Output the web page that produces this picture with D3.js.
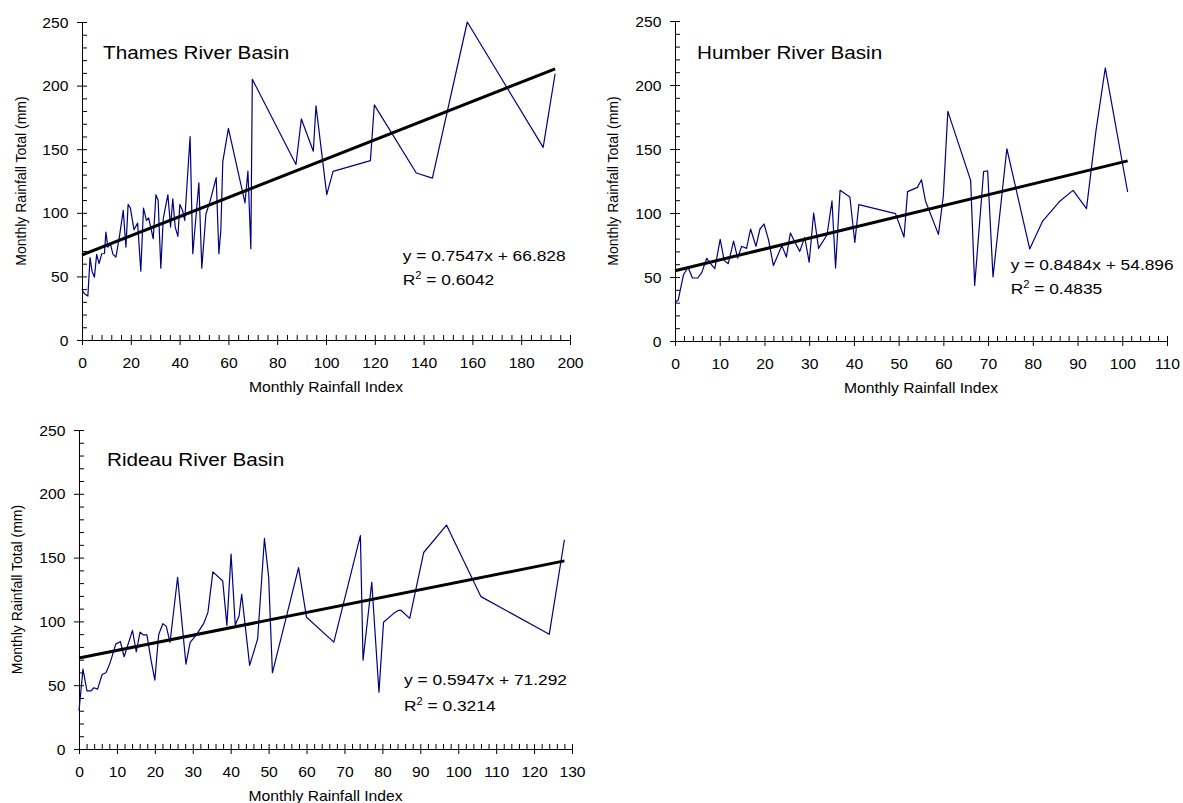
<!DOCTYPE html>
<html><head><meta charset="utf-8">
<script src="https://cdn.jsdelivr.net/npm/d3@7"></script>
<style>
body{margin:0;background:#fff}
svg{display:block}
text{font-family:Arial,"Liberation Sans",sans-serif;fill:#000}
</style>
</head><body>
<svg id="chart" width="1183" height="803"></svg>
<script>
// ---------------- DATA ----------------
const thamesIndex = [0,1.0,2.4,3.3,4.1,5.1,6.0,7.0,8.1,9.2,9.8,10.6,11.6,12.7,13.9,15.4,16.9,18.0,18.9,19.8,21.3,22.8,24.1,25.2,26.4,27.3,29.2,30.3,31.2,32.3,33.3,35.2,36.3,37.2,38.2,39.3,40.1,41.2,42.1,44.3,45.4,47.9,49.1,50.8,52.4,55.0,56.1,56.9,57.7,60.0,66.8,68.0,69.2,69.8,87.7,89.9,94.8,95.9,100.3,102.9,118.2,119.8,137.0,143.6,157.9,189.0,193.9];
const thamesRain  = [39.7,36.3,34.5,64.7,54.1,49.4,67.3,60.0,67.8,68.0,84.8,73.0,75.7,67.3,65.2,82.0,101.9,73.0,106.6,104.0,86.7,91.9,54.1,103.7,94.0,96.1,79.6,114.2,109.8,56.5,95.4,114.2,88.8,111.0,88.8,81.4,106.6,101.9,94.0,160.0,67.8,123.6,56.5,99.3,108.4,127.7,67.8,86.4,140.2,166.4,107.8,132.7,71.8,205.0,138.0,173.8,148.4,184.1,114.3,132.6,141.0,184.8,131.3,127.3,250.0,151.4,209.3];

const humberIndex = [0,0.7,1.9,2.9,3.9,5.1,6.0,7.1,8.0,8.9,10.1,11.0,11.9,13.1,14.0,14.9,16.0,16.9,18.1,19.0,19.9,20.9,22.0,23.9,24.9,25.8,26.9,27.9,29.0,30.0,31.0,32.1,34.0,35.1,35.9,36.9,39.1,40.2,41.1,49.3,51.2,52.0,54.2,55.1,56.0,58.9,60.0,61.0,66.1,67.0,69.0,69.9,71.1,74.2,79.3,82.2,86.1,89.0,92.0,94.1,96.2,101.2];
const humberRain  = [30.2,31.8,51.8,57.6,49.2,49.2,53.6,64.6,60.2,56.5,79.4,63.0,60.4,78.1,64.8,74.0,72.4,87.5,74.0,87.5,91.4,79.2,58.9,74.5,65.6,84.4,76.6,70.0,81.0,61.5,100.0,72.4,83.0,109.4,57.0,117.7,112.5,77.0,106.5,99.5,81.2,116.7,120.0,126.0,109.4,83.3,113.5,179.4,125.5,43.4,132.3,133.0,50.0,150.2,71.9,93.7,109.4,117.7,103.4,163.8,213.3,116.4];

const rideauIndex = [0,1.05,2.1,3.2,3.9,4.9,6.1,7.1,8.2,9.7,10.9,11.9,14.1,15.1,16.1,16.9,17.9,19.0,20.0,21.0,22.1,23.0,24.0,26.0,28.2,29.3,30.9,32.9,34.0,35.3,37.9,39.0,40.1,41.2,42.2,42.9,45.0,47.1,48.9,50.0,51.0,57.9,60.0,67.2,74.2,74.9,77.2,79.1,80.3,83.0,84.3,84.9,87.2,90.9,96.9,106.0,124.0,128.0];
const rideauRain  = [29.9,62.6,45.6,45.6,48.0,46.9,58.4,59.7,67.5,82.2,84.3,72.3,93.0,76.2,91.6,89.5,89.5,69.6,53.9,89.5,98.2,96.3,83.5,134.6,66.5,83.5,89.3,98.5,107.1,138.8,131.7,96.9,152.7,97.2,104.2,121.3,65.5,86.2,165.0,135.1,59.7,142.2,103.2,83.8,167.3,69.7,130.7,44.5,99.3,106.3,108.7,108.7,102.4,154.0,175.5,119.4,89.9,164.0];

const panelTitles = ["Thames River Basin","Humber River Basin","Rideau River Basin"];
const trendSlopes = [0.7547,0.8484,0.5947];
const trendIntercepts = [66.828,54.896,71.292];
const equationLabels = ["y = 0.7547x + 66.828","y = 0.8484x + 54.896","y = 0.5947x + 71.292"];
const r2Labels = ["0.6042","0.4835","0.3214"];
const yTickValues = [0,50,100,150,200,250];
const xTicksThames = [0,20,40,60,80,100,120,140,160,180,200];
const xTicksHumber = [0,10,20,30,40,50,60,70,80,90,100,110];
const xTicksRideau = [0,10,20,30,40,50,60,70,80,90,100,110,120,130];
const xAxisTitle = "Monthly Rainfall Index";
const yAxisTitle = "Monthly Rainfall Total (mm)";

// ---------------- LAYOUT ----------------
const SX = 1.12; // horizontal stretch of text in the reference
const panels = [
  {xs:thamesIndex, ys:thamesRain, xTicks:xTicksThames, xMax:200, xMinor:4,
   left:82, right:570, bottom:340, top:22, title:[103,58.5], eq:[402.7,260.5], r2y:284.5, ylabX:21},
  {xs:humberIndex, ys:humberRain, xTicks:xTicksHumber, xMax:110, xMinor:2,
   left:675, right:1167, bottom:341, top:21, title:[697,58.5], eq:[1010.7,269.5], r2y:293.5, ylabX:613},
  {xs:rideauIndex, ys:rideauRain, xTicks:xTicksRideau, xMax:130, xMinor:2,
   left:79, right:572, bottom:749, top:430, title:[107,465.5], eq:[404,684.5], r2y:710.5, ylabX:17}
];

const svg = d3.select("#chart");

panels.forEach((p, i) => {
  const x = d3.scaleLinear().domain([0, p.xMax]).range([p.left, p.right]);
  const y = d3.scaleLinear().domain([0, 250]).range([p.bottom, p.top]);
  const g = svg.append("g");

  // minor ticks (inside)
  const xMinorVals = d3.range(0, p.xMax + 0.001, p.xMinor).filter(v => !p.xTicks.includes(v));
  const yMinorVals = d3.range(0, 251, 10).filter(v => !yTickValues.includes(v));
  g.append("g").attr("transform", `translate(0,${p.bottom})`)
    .call(d3.axisBottom(x).tickValues(xMinorVals).tickSize(-5).tickFormat(""))
    .call(s => s.select(".domain").remove())
    .attr("color", "#000");
  g.append("g").attr("transform", `translate(${p.left},0)`)
    .call(d3.axisLeft(y).tickValues(yMinorVals).tickSize(-5).tickFormat(""))
    .call(s => s.select(".domain").remove())
    .attr("color", "#000");

  // major axes (crossing ticks)
  const gx = g.append("g").attr("transform", `translate(0,${p.bottom})`)
    .call(d3.axisBottom(x).tickValues(p.xTicks).tickSizeInner(5).tickSizeOuter(0));
  gx.attr("color", "#000").attr("font-size", 14).attr("font-family", "Arial, 'Liberation Sans', sans-serif");
  gx.selectAll(".tick line").attr("y1", -5);
  gx.selectAll(".tick text").attr("y", null).attr("dy", null)
    .attr("transform", `translate(0,28) scale(${SX},1)`);

  const gy = g.append("g").attr("transform", `translate(${p.left},0)`)
    .call(d3.axisLeft(y).tickValues(yTickValues).tickSizeInner(5).tickSizeOuter(0));
  gy.attr("color", "#000").attr("font-size", 14).attr("font-family", "Arial, 'Liberation Sans', sans-serif");
  gy.selectAll(".tick line").attr("x1", 5);
  gy.selectAll(".tick text").attr("x", null).attr("dy", null)
    .attr("transform", `translate(-13.5,5) scale(${SX},1)`);

  // data line
  const pts = p.xs.map((v, k) => [v, p.ys[k]]);
  g.append("path").datum(pts)
    .attr("fill", "none").attr("stroke", "#000080").attr("stroke-width", 1.2)
    .attr("stroke-linejoin", "round")
    .attr("d", d3.line().x(d => x(d[0])).y(d => y(d[1])));

  // trend line
  const xEnd = d3.max(p.xs);
  const tr = [0, xEnd].map(v => [v, trendSlopes[i] * v + trendIntercepts[i]]);
  g.append("path").datum(tr)
    .attr("fill", "none").attr("stroke", "#000").attr("stroke-width", 3)
    .attr("d", d3.line().x(d => x(d[0])).y(d => y(d[1])));

  // title
  g.append("text").attr("font-size", 18.5)
    .attr("transform", `translate(${p.title[0]},${p.title[1]}) scale(${SX},1)`)
    .text(panelTitles[i]);

  // equation
  g.append("text").attr("font-size", 15.5)
    .attr("transform", `translate(${p.eq[0]},${p.eq[1]}) scale(${SX},1)`)
    .text(equationLabels[i]);
  const r2 = g.append("text").attr("font-size", 15.5)
    .attr("transform", `translate(${p.eq[0]},${p.r2y}) scale(${SX},1)`);
  r2.append("tspan").text("R");
  r2.append("tspan").attr("font-size", 10).attr("dy", -6).text("2");
  r2.append("tspan").attr("dy", 6).text(" = " + r2Labels[i]);

  // axis titles
  g.append("text").attr("font-size", 14).attr("text-anchor", "middle")
    .attr("transform", `translate(${(p.left + p.right) / 2},${p.bottom + 52}) scale(${SX},1)`)
    .text(xAxisTitle);
  g.append("text").attr("font-size", 14).attr("text-anchor", "middle")
    .attr("transform", `translate(${p.ylabX + 5},${(p.top + p.bottom) / 2}) rotate(-90)`)
    .text(yAxisTitle);
});
</script>
</body></html>
